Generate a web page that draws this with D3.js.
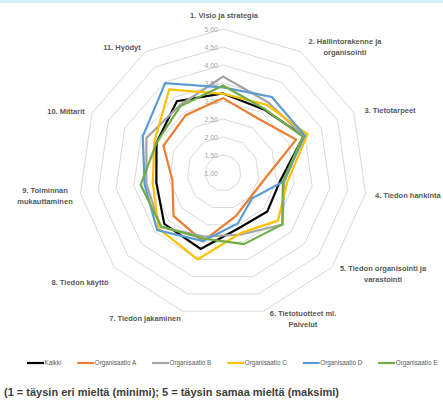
<!DOCTYPE html>
<html>
<head>
<meta charset="utf-8">
<script src="https://cdn.jsdelivr.net/npm/d3@7"></script>
<style>
  body { margin: 0; background: #fff; }
  svg { display: block; font-family: "Liberation Sans", Arial, sans-serif; }
</style>
</head>
<body>
<svg id="chart" width="443" height="405"></svg>
<script>
// axis names (clockwise from top)
const categories = [
  ["1. Visio ja strategia"],
  ["2. Hallintorakenne ja", "organisointi"],
  ["3. Tietotarpeet"],
  ["4. Tiedon hankinta"],
  ["5. Tiedon organisointi ja", "varastointi"],
  ["6. Tietotuotteet ml.", "Palvelut"],
  ["7. Tiedon jakaminen"],
  ["8. Tiedon käyttö"],
  ["9. Toiminnan", "mukauttaminen"],
  ["10. Mittarit"],
  ["11. Hyödyt"]
];

const tickValues = [1, 1.5, 2, 2.5, 3, 3.5, 4, 4.5, 5];
const tickLabels = ["1,00", "1,50", "2,00", "2,50", "3,00", "3,50", "4,00", "4,50", "5,00"];

const seriesNames = ["Kaikki", "Organisaatio A", "Organisaatio B", "Organisaatio C", "Organisaatio D", "Organisaatio E"];
const seriesColors = ["#000000", "#ED7D31", "#A5A5A5", "#FFC000", "#5B9BD5", "#70AD47"];

const kaikki = [3.21, 3.10, 3.46, 2.60, 2.63, 2.59, 3.20, 3.16, 2.87, 3.03, 3.37];
const orgA   = [3.08, 2.80, 3.23, 2.17, 2.02, 2.25, 2.98, 2.82, 2.42, 2.82, 2.91];
const orgB   = [3.68, 3.33, 3.46, 2.72, 3.19, 2.78, 2.84, 3.29, 3.15, 3.34, 3.23];
const orgC   = [3.20, 3.25, 3.58, 2.80, 3.02, 2.74, 3.50, 3.36, 2.97, 3.10, 3.76];
const orgD   = [3.38, 3.51, 3.50, 2.69, 2.07, 2.46, 2.97, 3.42, 3.20, 3.45, 3.97];
const orgE   = [3.43, 3.12, 3.44, 2.68, 3.18, 3.06, 2.90, 3.27, 3.31, 3.03, 3.20];

const seriesValues = [kaikki, orgA, orgB, orgC, orgD, orgE];

// label anchors [x, y]
const labelPos = [
  [224, 18], [345, 44], [390, 113], [375, 198, "start"], [383, 271],
  [303, 316], [145, 321], [80, 285], [45, 193], [66, 114], [122, 50]
];

const svg = d3.select("#chart");
const cx = 223, cy = 173;

svg.append("rect").attr("x", 0).attr("y", 0).attr("width", 443).attr("height", 3)
  .attr("fill", "#d5ecf7");

const r = d3.scaleLinear().domain([1, 5]).range([0, 144]);
const angle = d3.scaleLinear().domain([0, categories.length]).range([0, 2 * Math.PI]);

const g = svg.append("g").attr("transform", "translate(" + cx + "," + cy + ")");

// rings
const ring = d3.lineRadial()
  .angle((d, i) => angle(i))
  .radius(d => r(d))
  .curve(d3.curveLinearClosed);

g.selectAll(".ring").data(tickValues.slice(1)).enter().append("path")
  .attr("class", "ring")
  .attr("d", v => ring(categories.map(() => v)))
  .attr("fill", "none")
  .attr("stroke", "#d9d9d9")
  .attr("stroke-width", 1);

// tick labels along the vertical axis
g.selectAll(".tick").data(tickValues).enter().append("text")
  .attr("class", "tick")
  .attr("x", -5)
  .attr("y", v => -r(v) + 2.5)
  .attr("text-anchor", "end")
  .attr("font-size", "7px")
  .attr("fill", "#a6a6a6")
  .text((v, i) => tickLabels[i]);

// series
const line = d3.lineRadial()
  .angle((d, i) => angle(i))
  .radius(d => r(d))
  .curve(d3.curveLinearClosed);

g.selectAll(".series").data(seriesValues).enter().append("path")
  .attr("class", "series")
  .attr("d", d => line(d))
  .attr("fill", "none")
  .attr("stroke", (d, i) => seriesColors[i])
  .attr("stroke-width", 2.2)
  .attr("stroke-linejoin", "miter");

// category labels
categories.forEach(function(c, i) {
  const p = labelPos[i];
  const t = svg.append("text")
    .attr("x", p[0]).attr("y", p[1])
    .attr("text-anchor", p[2] || "middle")
    .attr("font-size", "7.5px")
    .attr("font-weight", "bold")
    .attr("fill", "#595959");
  c.forEach(function(s, j) {
    t.append("tspan").attr("x", p[0]).attr("dy", j == 0 ? 0 : 10.5).text(s);
  });
});

// legend
let lx = 27;
const ly = 363;
seriesNames.forEach(function(name, i) {
  svg.append("line")
    .attr("x1", lx).attr("x2", lx + 17)
    .attr("y1", ly).attr("y2", ly)
    .attr("stroke", seriesColors[i]).attr("stroke-width", 2.2);
  const t = svg.append("text")
    .attr("x", lx + 17.5).attr("y", ly + 2.2)
    .attr("font-size", "6.3px")
    .attr("fill", "#595959")
    .text(name);
  lx += 17.5 + t.node().getComputedTextLength() + 16;
});

// footnote
svg.append("text")
  .attr("x", 4).attr("y", 396)
  .attr("font-size", "11px")
  .attr("font-weight", "bold")
  .attr("fill", "#404040")
  .text("(1 = täysin eri mieltä (minimi); 5 = täysin samaa mieltä (maksimi)");
</script>
</body>
</html>
